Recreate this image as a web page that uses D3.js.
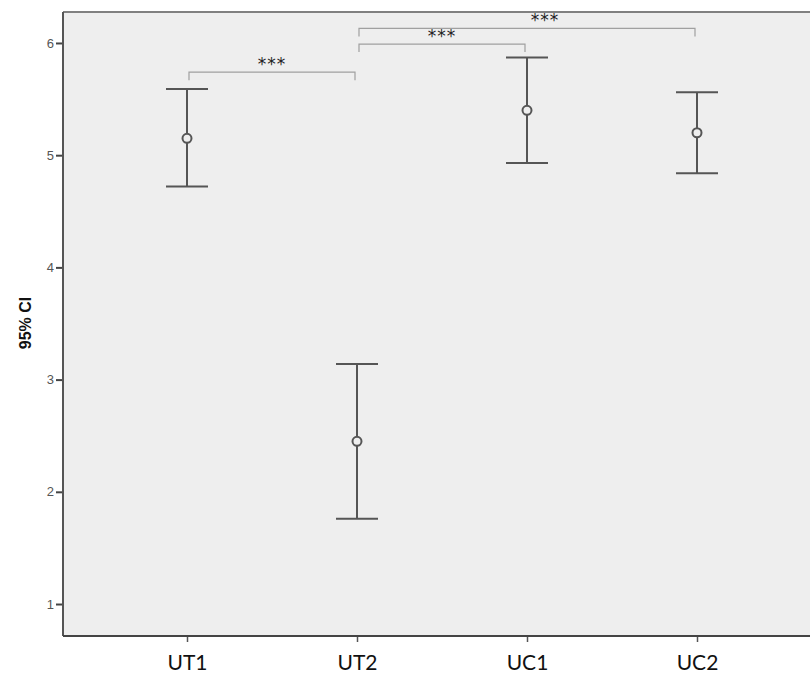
<!DOCTYPE html>
<html>
<head>
<meta charset="utf-8">
<script src="https://cdn.jsdelivr.net/npm/d3@7"></script>
<style>
  body { margin: 0; background: #fff; }
  svg { display: block; }
</style>
</head>
<body>
<svg id="chart"></svg>
<script>
// group means with 95% confidence intervals
const groups = ["UT1", "UT2", "UC1", "UC2"];
const means = [5.15, 2.45, 5.40, 5.20];
const lower = [4.72, 1.76, 4.93, 4.84];
const upper = [5.59, 3.14, 5.87, 5.56];
const yTicks = [1, 2, 3, 4, 5, 6];

// significance brackets: from group, to group, bracket level (value units)
const brFrom = ["UT1", "UT2", "UT2"];
const brTo = ["UT2", "UC1", "UC2"];
const brLevel = [5.74, 5.99, 6.13];
const brLabel = ["***", "***", "***"];

const margin = { top: 12, right: 0, bottom: 44, left: 63 },
    width = 810 - margin.left - margin.right,
    height = 680 - margin.top - margin.bottom;

const svg = d3.select("#chart")
    .attr("width", width + margin.left + margin.right)
    .attr("height", height + margin.top + margin.bottom)
    .append("g")
    .attr("transform", `translate(${margin.left},${margin.top})`);

const x = d3.scalePoint()
    .domain(groups)
    .range([124, 634]);

const y = d3.scaleLinear()
    .domain([0.715, 6.276])
    .range([height, 0]);

// plot background + frame
svg.append("rect")
    .attr("width", width)
    .attr("height", height)
    .attr("fill", "#eeeeee");

svg.append("line")
    .attr("x1", 0).attr("x2", width)
    .attr("y1", 0).attr("y2", 0)
    .attr("stroke", "#808080")
    .attr("stroke-width", 2);

// y axis
const yAxis = svg.append("g")
    .call(d3.axisLeft(y).tickValues(yTicks).tickFormat(d3.format("d")).tickSize(7).tickSizeOuter(0));
yAxis.select(".domain").remove();
yAxis.selectAll(".tick line").attr("stroke", "#444").attr("stroke-width", 2);
yAxis.selectAll(".tick text")
    .attr("x", -9)
    .attr("fill", "#555")
    .style("font-family", "Liberation Sans, Arial, sans-serif")
    .style("font-size", "13px");

svg.append("line")
    .attr("x1", 0).attr("x2", 0)
    .attr("y1", 0).attr("y2", height)
    .attr("stroke", "#555")
    .attr("stroke-width", 2);

// x axis
const xAxis = svg.append("g")
    .attr("transform", `translate(0,${height})`)
    .call(d3.axisBottom(x).tickSize(6).tickSizeOuter(0));
xAxis.select(".domain").remove();
xAxis.selectAll(".tick line").attr("stroke", "#555").attr("stroke-width", 1.5);
xAxis.selectAll(".tick text")
    .attr("y", 19)
    .attr("fill", "#111")
    .style("font-family", "Lato, 'Open Sans', sans-serif")
    .style("font-size", "21px");

svg.append("line")
    .attr("x1", 0).attr("x2", width)
    .attr("y1", height).attr("y2", height)
    .attr("stroke", "#444")
    .attr("stroke-width", 2);

svg.append("text")
    .attr("transform", "rotate(-90)")
    .attr("x", -311)
    .attr("y", -32)
    .attr("text-anchor", "middle")
    .attr("fill", "#111")
    .style("font-family", "Liberation Sans, Arial, sans-serif")
    .style("font-weight", "bold")
    .style("font-size", "16px")
    .text("95% CI");

// error bars
const rows = groups.map((g, i) => ({ g: g, m: means[i], lo: lower[i], hi: upper[i] }));
const capW = 21;
const bars = svg.selectAll(".err")
    .data(rows)
    .enter()
    .append("g")
    .attr("class", "err")
    .attr("stroke", "#555")
    .attr("stroke-width", 2)
    .attr("fill", "none");

bars.append("line")
    .attr("x1", d => x(d.g)).attr("x2", d => x(d.g))
    .attr("y1", d => y(d.hi)).attr("y2", d => y(d.lo));
bars.append("line")
    .attr("x1", d => x(d.g) - capW).attr("x2", d => x(d.g) + capW)
    .attr("y1", d => y(d.hi)).attr("y2", d => y(d.hi));
bars.append("line")
    .attr("x1", d => x(d.g) - capW).attr("x2", d => x(d.g) + capW)
    .attr("y1", d => y(d.lo)).attr("y2", d => y(d.lo));
bars.append("circle")
    .attr("cx", d => x(d.g))
    .attr("cy", d => y(d.m))
    .attr("r", 4.5)
    .attr("fill", "#eeeeee")
    .attr("stroke-width", 2);

// significance brackets
const brackets = brFrom.map((f, i) => ({ a: f, b: brTo[i], v: brLevel[i], t: brLabel[i] }));
const drop = 8;
const br = svg.selectAll(".br")
    .data(brackets)
    .enter()
    .append("g")
    .attr("class", "br");

br.append("path")
    .attr("d", d => {
        const x0 = x(d.a) + 2, x1 = x(d.b) - 2, yy = y(d.v);
        return `M${x0},${yy + drop}V${yy}H${x1}V${yy + drop}`;
    })
    .attr("fill", "none")
    .attr("stroke", "#a0a0a0")
    .attr("stroke-width", 1.2);

br.append("text")
    .attr("x", (d, i) => (x(d.a) + x(d.b)) / 2 + (i === 2 ? 18 : 0))
    .attr("y", d => y(d.v) - 2)
    .attr("text-anchor", "middle")
    .attr("fill", "#222")
    .style("font-family", "DejaVu Sans, sans-serif")
    .style("font-size", "17px")
    .style("letter-spacing", "1px")
    .text(d => d.t);
</script>
</body>
</html>
